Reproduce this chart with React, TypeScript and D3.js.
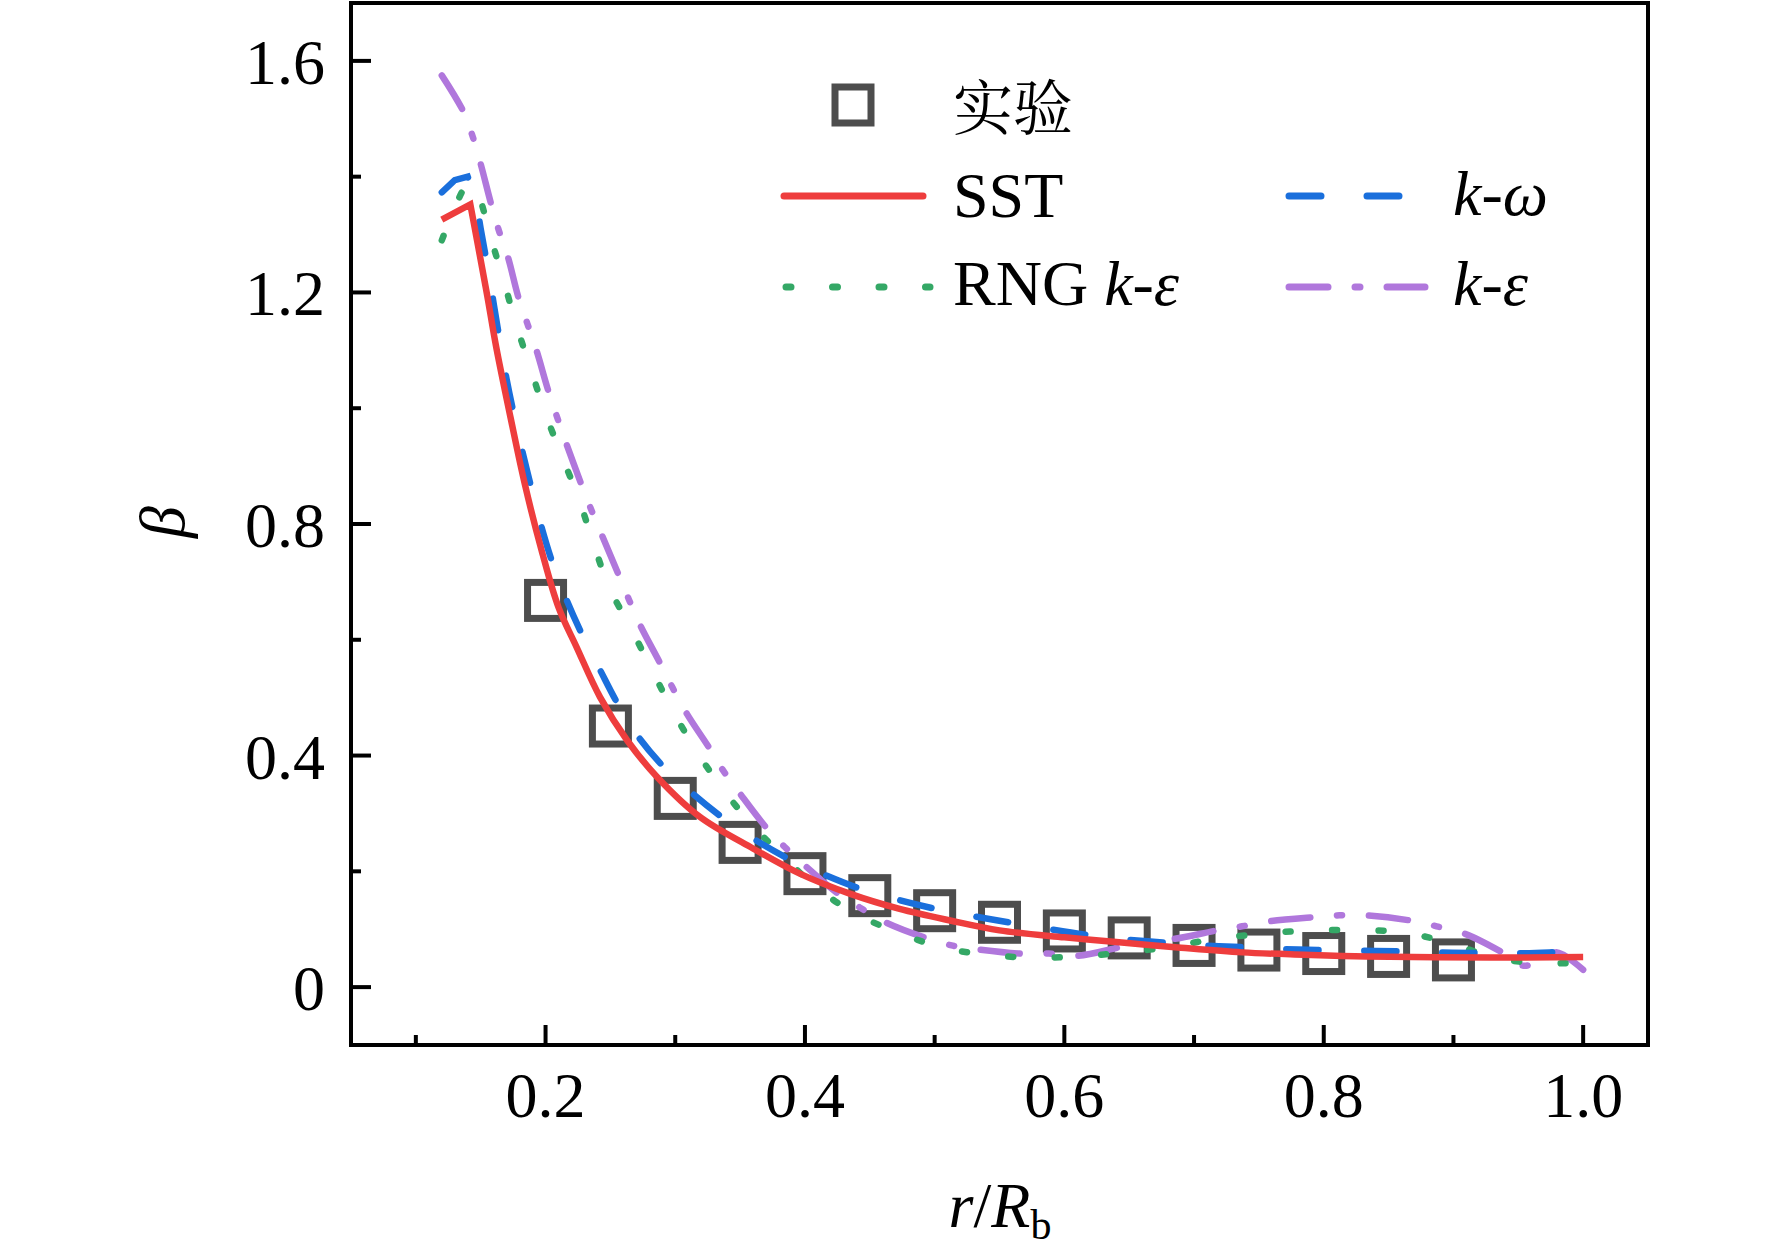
import React from "react";
import * as d3 from "d3";

// ---- data ----
const expX = [0.2, 0.25, 0.3, 0.35, 0.4, 0.45, 0.5, 0.55, 0.6, 0.65, 0.7, 0.75, 0.8, 0.85, 0.9];
const expY = [0.668, 0.451, 0.326, 0.25, 0.196, 0.158, 0.132, 0.112, 0.097, 0.085, 0.072, 0.064, 0.058, 0.053, 0.047];

const sstX = [0.12, 0.142, 0.148, 0.155, 0.162, 0.173, 0.184, 0.197, 0.21, 0.224, 0.242, 0.263, 0.286, 0.319, 0.358, 0.396, 0.435, 0.473, 0.512, 0.55, 0.6, 0.64, 0.69, 0.737, 0.785, 0.833, 0.929, 1.0];
const sstY = [1.326, 1.352, 1.28, 1.195, 1.105, 0.984, 0.869, 0.754, 0.656, 0.587, 0.501, 0.426, 0.363, 0.294, 0.242, 0.196, 0.161, 0.135, 0.115, 0.098, 0.086, 0.078, 0.068, 0.06, 0.056, 0.053, 0.051, 0.052];

const kwX = [0.12, 0.13, 0.14, 0.146, 0.15, 0.156, 0.163, 0.17, 0.178, 0.186, 0.195, 0.205, 0.216, 0.229, 0.242, 0.255, 0.27, 0.29, 0.313, 0.334, 0.359, 0.388, 0.412, 0.44, 0.468, 0.499, 0.526, 0.557, 0.586, 0.618, 0.643, 0.676, 0.705, 0.737, 0.763, 0.795, 0.823, 0.856, 0.884, 0.917, 0.942, 0.974, 1.0];
const kwY = [1.373, 1.394, 1.4, 1.36, 1.31, 1.235, 1.14, 1.05, 0.965, 0.89, 0.81, 0.735, 0.67, 0.605, 0.548, 0.492, 0.437, 0.383, 0.335, 0.297, 0.258, 0.221, 0.197, 0.172, 0.153, 0.136, 0.124, 0.112, 0.101, 0.09, 0.083, 0.077, 0.072, 0.069, 0.066, 0.064, 0.063, 0.062, 0.06, 0.059, 0.058, 0.06, 0.063];

const rngX = [0.12, 0.123, 0.137, 0.142, 0.148, 0.158, 0.168, 0.178, 0.189, 0.2, 0.213, 0.226, 0.237, 0.249, 0.266, 0.282, 0.298, 0.316, 0.336, 0.359, 0.383, 0.409, 0.438, 0.471, 0.505, 0.54, 0.576, 0.612, 0.647, 0.683, 0.718, 0.753, 0.789, 0.825, 0.86, 0.894, 0.929, 0.964, 1.0];
const rngY = [1.29, 1.307, 1.379, 1.39, 1.37, 1.293, 1.218, 1.14, 1.065, 0.99, 0.915, 0.841, 0.766, 0.691, 0.619, 0.548, 0.478, 0.409, 0.344, 0.281, 0.226, 0.172, 0.128, 0.095, 0.069, 0.056, 0.051, 0.053, 0.06, 0.07, 0.084, 0.092, 0.098, 0.098, 0.095, 0.078, 0.053, 0.041, 0.043];

const keX = [0.12, 0.137, 0.144, 0.15, 0.158, 0.164, 0.171, 0.179, 0.186, 0.193, 0.202, 0.209, 0.216, 0.227, 0.235, 0.243, 0.256, 0.264, 0.273, 0.288, 0.298, 0.309, 0.326, 0.337, 0.35, 0.37, 0.384, 0.4, 0.424, 0.442, 0.462, 0.493, 0.513, 0.534, 0.566, 0.588, 0.61, 0.643, 0.663, 0.684, 0.718, 0.737, 0.759, 0.793, 0.812, 0.833, 0.867, 0.887, 0.909, 0.936, 0.954, 0.972, 0.98, 1.0];
const keY = [1.575, 1.511, 1.468, 1.422, 1.353, 1.307, 1.261, 1.192, 1.146, 1.1, 1.031, 0.984, 0.939, 0.872, 0.826, 0.783, 0.714, 0.671, 0.625, 0.561, 0.517, 0.472, 0.414, 0.374, 0.334, 0.276, 0.243, 0.21, 0.164, 0.138, 0.112, 0.085, 0.072, 0.065, 0.058, 0.058, 0.054, 0.069, 0.078, 0.083, 0.098, 0.105, 0.114, 0.121, 0.124, 0.124, 0.115, 0.105, 0.092, 0.062, 0.037, 0.052, 0.06, 0.03];

const xMajor = [0.2, 0.4, 0.6, 0.8, 1.0];
const xMinor = [0.1, 0.3, 0.5, 0.7, 0.9];
const yMajor = [0, 0.4, 0.8, 1.2, 1.6];
const yMinor = [0.2, 0.6, 1.0, 1.4];

const COLORS = {
  exp: "#4d4d4d",
  sst: "#ee3d3d",
  kw: "#1a6fdc",
  rng: "#34a866",
  ke: "#b077dc",
};

const SERIF = "'Liberation Serif', 'Times New Roman', serif";
const CJK = "'Noto Serif CJK SC', 'Noto Sans CJK SC', sans-serif";

export default function App() {
  const W = 1772;
  const H = 1254;
  const left = 351, right = 1648, top = 3, bottom = 1045;
  const x = d3.scaleLinear().domain([0.05, 1.05]).range([left, right]);
  const y = d3.scaleLinear().domain([-0.1, 1.7]).range([bottom, top]);

  const lineLin = d3
    .line<[number, number]>()
    .x((d) => x(d[0]))
    .y((d) => y(d[1]))
    .curve(d3.curveLinear);
  const lineSmooth = d3
    .line<[number, number]>()
    .x((d) => x(d[0]))
    .y((d) => y(d[1]))
    .curve(d3.curveCatmullRom.alpha(0.5));

  const zip = (xs: number[], ys: number[]) => xs.map((v, i) => [v, ys[i]] as [number, number]);

  // sharp corner at the peak (index `corner`), smooth afterwards
  const pathWithCorner = (pts: [number, number][], corner: number) => {
    if (corner <= 0) return lineSmooth(pts) || "";
    const a = lineLin(pts.slice(0, corner + 1)) || "";
    const b = (lineSmooth(pts.slice(corner)) || "").replace(/^M/, "L");
    return a + b;
  };

  const series = [
    { key: "ke", xs: keX, ys: keY, color: COLORS.ke, dash: "39 27 5 27", corner: 0 },
    { key: "rng", xs: rngX, ys: rngY, color: COLORS.rng, dash: "5 41.5", corner: 0 },
    { key: "kw", xs: kwX, ys: kwY, color: COLORS.kw, dash: "32 46", corner: 2 },
    { key: "sst", xs: sstX, ys: sstY, color: COLORS.sst, dash: undefined as string | undefined, corner: 1 },
  ];

  const sq = 36;
  const fs = 64;

  return (
    <svg
      width={W}
      height={H}
      viewBox={`0 0 ${W} ${H}`}
      style={{ position: "absolute", left: 0, top: 0, background: "#fff" }}
    >
      <rect x={0} y={0} width={W} height={H} fill="#fff" />

      {/* experimental squares */}
      {expX.map((v, i) => (
        <rect
          key={"e" + i}
          x={x(v) - sq / 2}
          y={y(expY[i]) - sq / 2}
          width={sq}
          height={sq}
          fill="none"
          stroke={COLORS.exp}
          strokeWidth={7}
        />
      ))}

      {/* curves */}
      {series.map((s) => (
        <path
          key={s.key}
          d={pathWithCorner(zip(s.xs, s.ys), s.corner)}
          fill="none"
          stroke={s.color}
          strokeWidth={6.5}
          strokeDasharray={s.dash}
          strokeLinecap={s.dash ? "round" : "butt"}
          strokeLinejoin="miter"
        />
      ))}

      {/* frame */}
      <rect x={left} y={top} width={right - left} height={bottom - top} fill="none" stroke="#000" strokeWidth={4} />

      {/* x ticks */}
      {xMajor.map((t) => (
        <line key={"xM" + t} x1={x(t)} x2={x(t)} y1={bottom} y2={bottom - 20} stroke="#000" strokeWidth={4} />
      ))}
      {xMinor.map((t) => (
        <line key={"xm" + t} x1={x(t)} x2={x(t)} y1={bottom} y2={bottom - 10} stroke="#000" strokeWidth={4} />
      ))}
      {xMajor.map((t) => (
        <text key={"xl" + t} x={x(t)} y={1117} textAnchor="middle" fontFamily={SERIF} fontSize={fs} fill="#000">
          {d3.format(".1f")(t)}
        </text>
      ))}

      {/* y ticks */}
      {yMajor.map((t) => (
        <line key={"yM" + t} x1={left} x2={left + 20} y1={y(t)} y2={y(t)} stroke="#000" strokeWidth={4} />
      ))}
      {yMinor.map((t) => (
        <line key={"ym" + t} x1={left} x2={left + 10} y1={y(t)} y2={y(t)} stroke="#000" strokeWidth={4} />
      ))}
      {yMajor.map((t) => (
        <text key={"yl" + t} x={325} y={y(t) + 23} textAnchor="end" fontFamily={SERIF} fontSize={fs} fill="#000">
          {t === 0 ? "0" : d3.format(".1f")(t)}
        </text>
      ))}

      {/* axis titles */}
      <text
        transform={`translate(${162},${522}) rotate(-90)`}
        textAnchor="middle"
        dominantBaseline="central"
        fontFamily={SERIF}
        fontStyle="italic"
        fontSize={fs}
        fill="#000"
      >
        β
      </text>
      <text x={1000} y={1227} textAnchor="middle" fontFamily={SERIF} fontSize={fs} fill="#000">
        <tspan fontStyle="italic">r</tspan>
        <tspan>/</tspan>
        <tspan fontStyle="italic">R</tspan>
        <tspan fontSize={42} dy={12}>b</tspan>
      </text>

      {/* legend */}
      <rect x={853 - sq / 2} y={105 - sq / 2} width={sq} height={sq} fill="none" stroke={COLORS.exp} strokeWidth={7} />
      <text x={953} y={130} fontFamily={CJK} fontSize={60} fill="#000">
        实验
      </text>

      <line x1={784} x2={923} y1={196} y2={196} stroke={COLORS.sst} strokeWidth={7} strokeLinecap="round" />
      <text x={953} y={217} fontFamily={SERIF} fontSize={fs} fill="#000">
        SST
      </text>

      <line x1={786} x2={930} y1={287} y2={287} stroke={COLORS.rng} strokeWidth={7} strokeLinecap="round" strokeDasharray="5 41.5" />
      <text x={953} y={305} fontFamily={SERIF} fontSize={fs} fill="#000">
        <tspan>RNG </tspan>
        <tspan fontStyle="italic">k</tspan>
        <tspan>-</tspan>
        <tspan fontStyle="italic">ε</tspan>
      </text>

      <line x1={1289} x2={1400} y1={196} y2={196} stroke={COLORS.kw} strokeWidth={7} strokeLinecap="round" strokeDasharray="32 46" />
      <text x={1453} y={215} fontFamily={SERIF} fontSize={fs} fill="#000">
        <tspan fontStyle="italic">k</tspan>
        <tspan>-</tspan>
        <tspan fontStyle="italic">ω</tspan>
      </text>

      <line x1={1289} x2={1425} y1={287} y2={287} stroke={COLORS.ke} strokeWidth={7} strokeLinecap="round" strokeDasharray="39 27 5 27" />
      <text x={1453} y={305} fontFamily={SERIF} fontSize={fs} fill="#000">
        <tspan fontStyle="italic">k</tspan>
        <tspan>-</tspan>
        <tspan fontStyle="italic">ε</tspan>
      </text>
    </svg>
  );
}
